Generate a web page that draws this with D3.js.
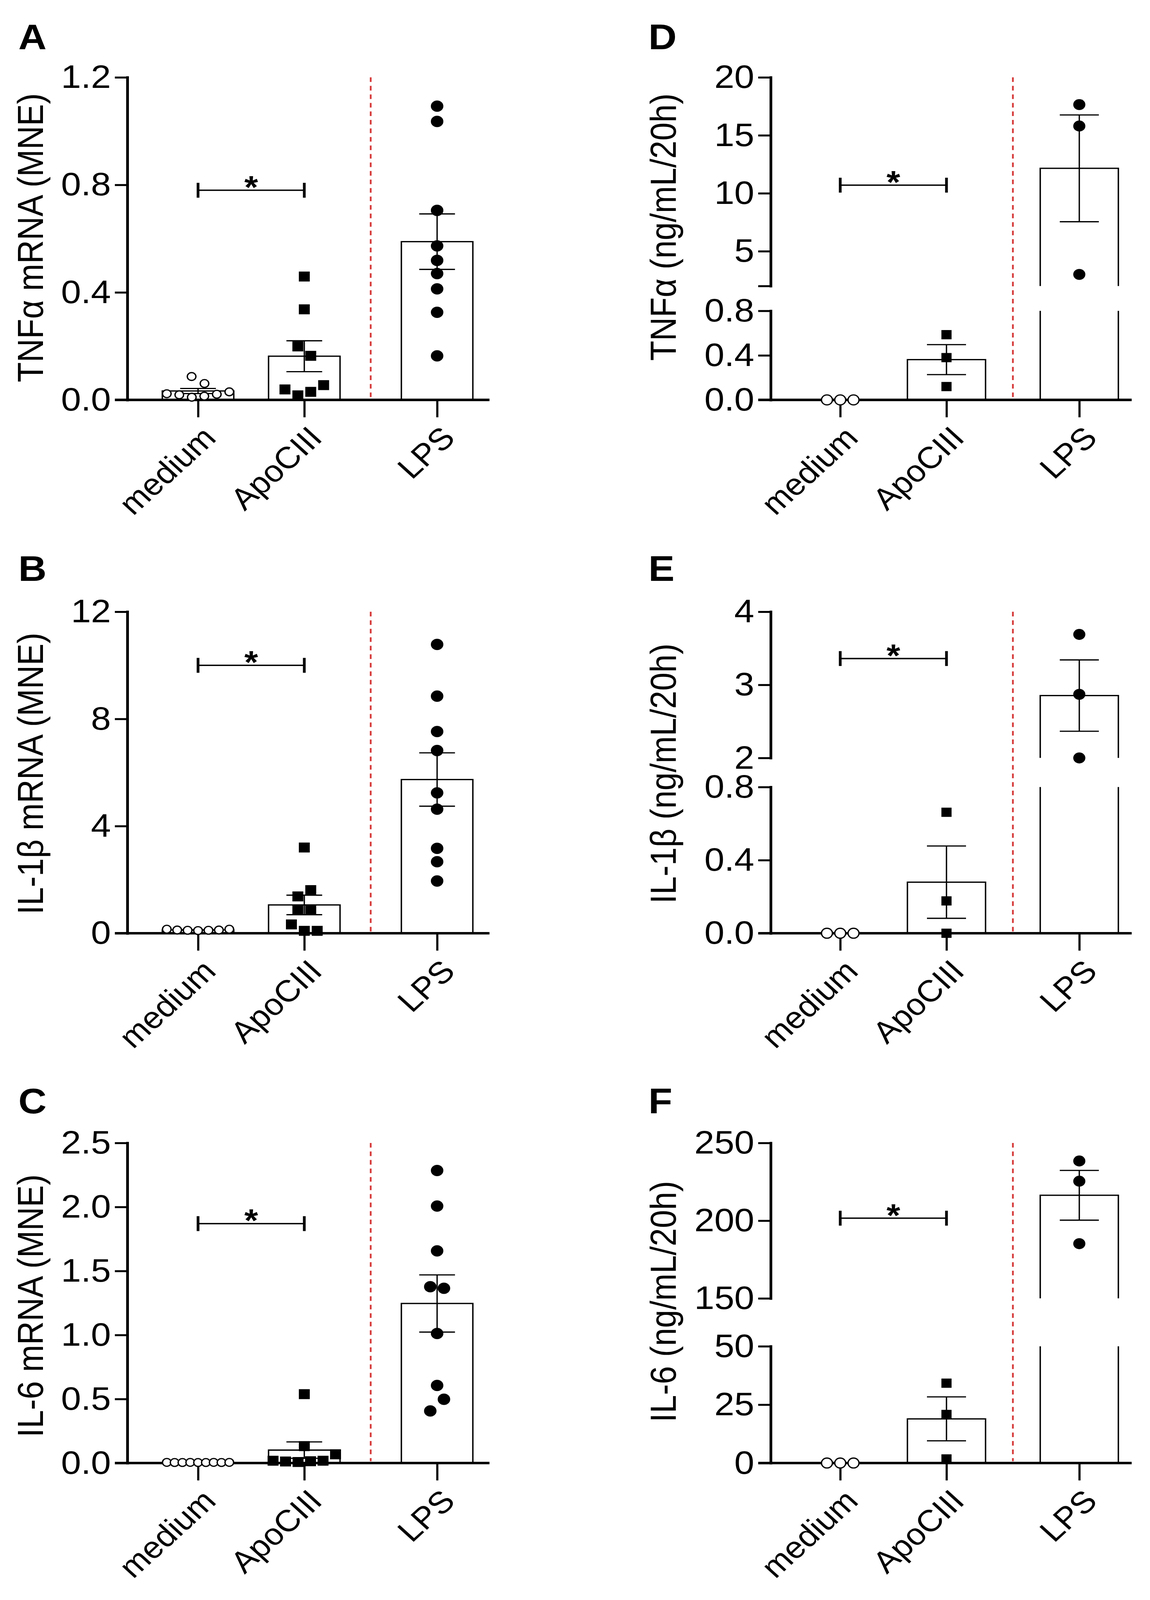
<!DOCTYPE html>
<html>
<head>
<meta charset="utf-8">
<script src="https://cdn.jsdelivr.net/npm/d3@7"></script>
<style>
  html, body { margin: 0; padding: 0; background: #fff; overflow: hidden; }
  svg { display: block; }
  text { font-family: "Liberation Sans", Arial, Helvetica, sans-serif; fill: #000; }
</style>
</head>
<body>
<svg id="chart" viewBox="0 0 2944 4509" preserveAspectRatio="none"></svg>
<script>
// ---------------- DATA ----------------
const categories = ["medium", "ApoCIII", "LPS"];

// Panel A: TNFα mRNA (MNE)
const aTitle = "TNFα mRNA (MNE)";
const aMedium  = [0.087, 0.061, 0.023, 0.019, 0.010, 0.014, 0.021, 0.030];
const aApoCIII = [0.459, 0.337, 0.199, 0.164, 0.039, 0.017, 0.030, 0.055];
const aLPS     = [1.093, 1.036, 0.705, 0.573, 0.519, 0.470, 0.413, 0.326, 0.164];
const aTicks = [0, 0.4, 0.8, 1.2];
const aTickLabels = ["0.0", "0.4", "0.8", "1.2"];
const aBracket = 0.78;

// Panel B: IL-1β mRNA (MNE)
const bTitle = "IL-1β mRNA (MNE)";
const bMedium  = [0.15, 0.12, 0.11, 0.10, 0.11, 0.12, 0.15];
const bApoCIII = [3.2, 1.375, 1.61, 0.88, 0.88, 0.33, 0.09, 0.09];
const bLPS     = [10.78, 8.85, 7.53, 6.82, 5.24, 4.63, 3.17, 2.67, 1.95];
const bTicks = [0, 4, 8, 12];
const bTickLabels = ["0", "4", "8", "12"];
const bBracket = 10.0;

// Panel C: IL-6 mRNA (MNE)
const cTitle = "IL-6 mRNA (MNE)";
const cMedium  = [0.005, 0.004, 0.004, 0.005, 0.004, 0.004, 0.005, 0.004, 0.005];
const cApoCIII = [0.538, 0.132, 0.018, 0.012, 0.008, 0.014, 0.018, 0.068];
const cLPS     = [2.285, 2.007, 1.657, 1.377, 1.365, 1.012, 0.606, 0.407, 0.498];
const cTicks = [0, 0.5, 1, 1.5, 2, 2.5];
const cTickLabels = ["0.0", "0.5", "1.0", "1.5", "2.0", "2.5"];
const cBracket = 1.87;

// Panel D: TNFα (ng/mL/20h), broken axis
const dTitle = "TNFα (ng/mL/20h)";
const dMedium  = [0, 0, 0];
const dApoCIII = [0.586, 0.38, 0.12];
const dLPS     = [17.65, 15.8, 3.0];
const dLowTicks = [0, 0.4, 0.8];
const dLowTickLabels = ["0.0", "0.4", "0.8"];
const dHighTicks = [2, 5, 10, 15, 20];
const dHighTickLabels = ["", "5", "10", "15", "20"];
const dBracket = 10.7;

// Panel E: IL-1β (ng/mL/20h), broken axis
const eTitle = "IL-1β (ng/mL/20h)";
const eMedium  = [0, 0, 0];
const eApoCIII = [0.662, 0.177, 0.0];
const eLPS     = [3.69, 2.87, 2.0];
const eLowTicks = [0, 0.4, 0.8];
const eLowTickLabels = ["0.0", "0.4", "0.8"];
const eHighTicks = [2, 3, 4];
const eHighTickLabels = ["2", "3", "4"];
const eBracket = 3.36;

// Panel F: IL-6 (ng/mL/20h), broken axis
const fTitle = "IL-6 (ng/mL/20h)";
const fMedium  = [0, 0, 0];
const fApoCIII = [34.2, 20.8, 1.75];
const fLPS     = [238.4, 225.4, 185.2];
const fLowTicks = [0, 25, 50];
const fLowTickLabels = ["0", "25", "50"];
const fHighTicks = [150, 200, 250];
const fHighTickLabels = ["150", "200", "250"];
const fBracket = 201.6;

// ---------------- LAYOUT ----------------
const W = 2944, H = 4509;
const vw = window.innerWidth || W;
const vh = window.innerHeight || H;
const svg = d3.select("#chart")
  .attr("width", Math.min(vw, W))
  .attr("height", Math.min(vh, H));
svg.append("rect").attr("width", W).attr("height", H).attr("fill", "#fff");

const leftCol  = { axisX: 326,  x0: 507,  unit: 272, barW: 183, openR: 11, sq: 28, dotR: 16, step: 33, span: 160, letterX: 47,   titleX: 110 };
const rightCol = { axisX: 1973, x0: 2151, unit: 272, barW: 200, openR: 14, sq: 26, dotR: 15.5, step: 34, span: 160, letterX: 1660, titleX: 1730 };
const rowsL = [ { top: 218, base: 1127, letterY: 139 },
                { top: 1724, base: 2630, letterY: 1637 },
                { top: 3221, base: 4123, letterY: 3137 } ];
const catPos = [0, 1, 2.25];
const sepPos = 1.625;
const axisEndPos = 2.743;
const TICK = 32, XTICK = 49;
const FS = 92, CAT_FS = 86;

const panels = [
  { letter: "A", col: leftCol, row: rowsL[0], title: aTitle, titleY: 670,
    groups: [aMedium, aApoCIII, aLPS], bracket: aBracket,
    segments: [ { domain: [0, 1.2], range: [rowsL[0].base, rowsL[0].top], ticks: aTicks, labels: aTickLabels } ] },
  { letter: "B", col: leftCol, row: rowsL[1], title: bTitle, titleY: 2180,
    groups: [bMedium, bApoCIII, bLPS], bracket: bBracket,
    segments: [ { domain: [0, 12], range: [rowsL[1].base, rowsL[1].top], ticks: bTicks, labels: bTickLabels } ] },
  { letter: "C", col: leftCol, row: rowsL[2], title: cTitle, titleY: 3680,
    groups: [cMedium, cApoCIII, cLPS], bracket: cBracket,
    segments: [ { domain: [0, 2.5], range: [rowsL[2].base, rowsL[2].top], ticks: cTicks, labels: cTickLabels } ] },
  { letter: "D", col: rightCol, row: rowsL[0], title: dTitle, titleY: 640,
    groups: [dMedium, dApoCIII, dLPS], bracket: dBracket,
    segments: [ { domain: [0, 0.8], range: [1127, 876], ticks: dLowTicks, labels: dLowTickLabels },
                { domain: [2, 20],  range: [806, 218],  ticks: dHighTicks, labels: dHighTickLabels } ] },
  { letter: "E", col: rightCol, row: rowsL[1], title: eTitle, titleY: 2180,
    groups: [eMedium, eApoCIII, eLPS], bracket: eBracket,
    segments: [ { domain: [0, 0.8], range: [2630, 2218], ticks: eLowTicks, labels: eLowTickLabels },
                { domain: [2, 4],   range: [2136, 1724], ticks: eHighTicks, labels: eHighTickLabels } ] },
  { letter: "F", col: rightCol, row: rowsL[2], title: fTitle, titleY: 3668,
    groups: [fMedium, fApoCIII, fLPS], bracket: fBracket,
    segments: [ { domain: [0, 50],    range: [4123, 3794], ticks: fLowTicks, labels: fLowTickLabels },
                { domain: [150, 250], range: [3659, 3221], ticks: fHighTicks, labels: fHighTickLabels } ] }
];

function layoutPoints(vals, ypx, size, stepMax, span) {
  const idx = d3.range(vals.length).sort((a, b) => vals[a] - vals[b]);
  const rows = [];
  let cur = null;
  idx.forEach(i => {
    if (cur && Math.abs(ypx(vals[i]) - ypx(vals[cur[0]])) <= size * 1.1) cur.push(i);
    else { cur = [i]; rows.push(cur); }
  });
  const off = new Array(vals.length).fill(0);
  rows.forEach(r => {
    r.sort((a, b) => a - b);
    const n = r.length;
    const st = n > 1 ? Math.min(stepMax, span / (n - 1)) : 0;
    r.forEach((i, k) => { off[i] = (k - (n - 1) / 2) * st; });
  });
  return off;
}

function drawPanel(p) {
  const col = p.col, row = p.row;
  const g = svg.append("g");
  const x = d3.scaleLinear().domain([0, 1]).range([col.x0, col.x0 + col.unit]);
  const segs = p.segments.map(s => Object.assign({}, s, { scale: d3.scaleLinear().domain(s.domain).range(s.range) }));
  const segOf = v => (segs.length > 1 && v >= segs[1].domain[0]) ? segs[1] : segs[0];
  const y = v => segOf(v).scale(v);
  const base = row.base;

  // panel letter
  g.append("text").attr("x", col.letterX).attr("y", row.letterY)
    .attr("font-size", 100).attr("font-weight", "bold").text(p.letter);

  // y-axis title
  g.append("text")
    .attr("transform", `translate(${col.titleX},${p.titleY}) rotate(-90)`)
    .attr("text-anchor", "middle").attr("font-size", FS).text(p.title);

  // red dotted separator
  g.append("line")
    .attr("x1", x(sepPos)).attr("x2", x(sepPos))
    .attr("y1", row.top).attr("y2", base - 5)
    .attr("stroke", "#d63a3a").attr("stroke-width", 4.5).attr("stroke-dasharray", "13,11");

  // bars
  const stats = p.groups.map(vals => {
    const m = d3.mean(vals);
    const sem = vals.length > 1 ? d3.deviation(vals) / Math.sqrt(vals.length) : 0;
    return { m, sem };
  });
  stats.forEach((st, i) => {
    if (!(st.m > 0)) return;
    const cx = x(catPos[i]), hw = col.barW / 2;
    const path = d3.path();
    if (segs.length > 1 && st.m >= segs[1].domain[0]) {
      const lowTop = segs[0].scale(segs[0].domain[1]);
      const upBot = segs[1].scale(segs[1].domain[0]);
      path.moveTo(cx - hw, base); path.lineTo(cx - hw, lowTop);
      path.moveTo(cx + hw, base); path.lineTo(cx + hw, lowTop);
      path.moveTo(cx - hw, upBot); path.lineTo(cx - hw, y(st.m));
      path.lineTo(cx + hw, y(st.m)); path.lineTo(cx + hw, upBot);
    } else {
      path.moveTo(cx - hw, base); path.lineTo(cx - hw, y(st.m));
      path.lineTo(cx + hw, y(st.m)); path.lineTo(cx + hw, base);
    }
    g.append("path").attr("d", path.toString()).attr("fill", "none")
      .attr("stroke", "#000").attr("stroke-width", 3.6);
  });

  // error bars (mean ± SEM)
  stats.forEach((st, i) => {
    if (!(st.sem > 0)) return;
    const cx = x(catPos[i]), cw = col.barW / 4;
    const yt = y(st.m + st.sem), yb = y(Math.max(0, st.m - st.sem));
    const path = d3.path();
    path.moveTo(cx, yb); path.lineTo(cx, yt);
    path.moveTo(cx - cw, yt); path.lineTo(cx + cw, yt);
    path.moveTo(cx - cw, yb); path.lineTo(cx + cw, yb);
    g.append("path").attr("d", path.toString()).attr("fill", "none")
      .attr("stroke", "#000").attr("stroke-width", 3.4);
  });

  // y axes (one per segment)
  segs.forEach(s => {
    const ax = g.append("g").attr("transform", `translate(${col.axisX},0)`)
      .call(d3.axisLeft(s.scale).tickValues(s.ticks).tickFormat((d, i) => s.labels[i])
        .tickSize(TICK).tickSizeOuter(0).tickPadding(10));
    ax.select(".domain").attr("stroke", "#000").attr("stroke-width", 7).attr("stroke-linecap", "square");
    ax.selectAll(".tick line").attr("stroke", "#000").attr("stroke-width", 5.5);
    ax.selectAll(".tick text").attr("font-size", FS)
      .attr("font-family", '"Liberation Sans", Arial, sans-serif').attr("fill", "#000");
  });
  // x axis
  g.append("line").attr("x1", col.axisX - TICK).attr("x2", x(axisEndPos))
    .attr("y1", base).attr("y2", base).attr("stroke", "#000").attr("stroke-width", 7);
  const xAx = g.append("g").attr("transform", `translate(0,${base})`)
    .call(d3.axisBottom(x).tickValues(catPos).tickFormat("").tickSize(XTICK).tickSizeOuter(0));
  xAx.select(".domain").remove();
  xAx.selectAll(".tick line").attr("stroke", "#000").attr("stroke-width", 5.5);
  categories.forEach((c, i) => {
    g.append("text")
      .attr("transform", `translate(${x(catPos[i]) + 50},${base + 112}) rotate(-45)`)
      .attr("text-anchor", "end").attr("font-size", CAT_FS).text(c);
  });

  // data points
  p.groups.forEach((vals, i) => {
    const cx = x(catPos[i]);
    if (i === 0) {
      const size = col.openR * 2 + 3.4;
      const off = layoutPoints(vals, y, size, col.step, col.span);
      vals.forEach((v, k) => {
        g.append("circle").attr("cx", cx + off[k]).attr("cy", y(v)).attr("r", col.openR)
          .attr("fill", "#fff").attr("stroke", "#000").attr("stroke-width", 3.4);
      });
    } else if (i === 1) {
      const off = layoutPoints(vals, y, col.sq - 1, col.step, col.span);
      vals.forEach((v, k) => {
        g.append("rect").attr("x", cx + off[k] - col.sq / 2).attr("y", y(v) - col.sq / 2)
          .attr("width", col.sq).attr("height", col.sq).attr("fill", "#000");
      });
    } else {
      const off = layoutPoints(vals, y, 31, col.step + 2, col.span);
      vals.forEach((v, k) => {
        g.append("circle").attr("cx", cx + off[k]).attr("cy", y(v)).attr("r", col.dotR).attr("fill", "#000");
      });
    }
  });

  // significance bracket
  const yb = y(p.bracket), xa = x(catPos[0]), xb = x(catPos[1]);
  g.append("line").attr("x1", xa).attr("x2", xb).attr("y1", yb).attr("y2", yb)
    .attr("stroke", "#000").attr("stroke-width", 4);
  [xa, xb].forEach(xx => {
    g.append("line").attr("x1", xx).attr("x2", xx).attr("y1", yb - 21).attr("y2", yb + 21)
      .attr("stroke", "#000").attr("stroke-width", 7);
  });
  g.append("text").attr("x", (xa + xb) / 2).attr("y", yb + 22)
    .attr("text-anchor", "middle").attr("font-size", 90).attr("font-weight", "bold").text("*");
}

panels.forEach(drawPanel);
</script>
</body>
</html>
